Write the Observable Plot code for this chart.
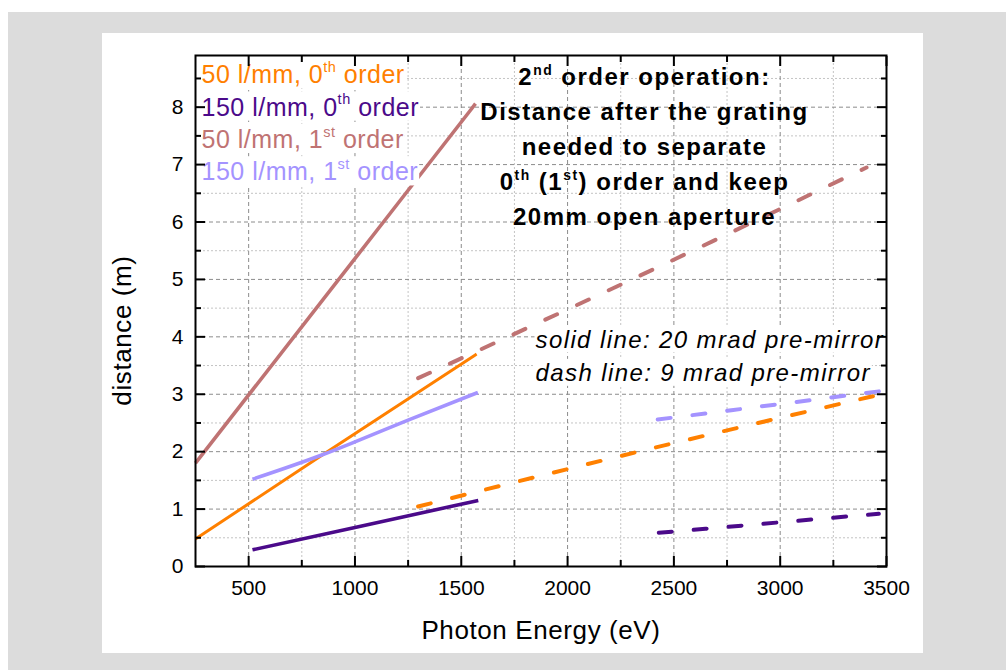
<!DOCTYPE html>
<html>
<head>
<meta charset="utf-8">
<script src="https://cdn.jsdelivr.net/npm/d3@7"></script>
<script src="https://cdn.jsdelivr.net/npm/@observablehq/plot@0.6"></script>
<style>
  body { margin: 0; background: #fff; font-family: "Liberation Sans", Arial, sans-serif; }
  #backdrop { position: absolute; left: 8px; top: 12px; width: 998px; height: 658px; background: #dcdcdc; }
  #panel { position: absolute; left: 94px; top: 21px; width: 821px; height: 620px; background: #fff; }
  #panel svg g[font-weight="bold"] text { letter-spacing: 1.5px; }
  #panel svg g[font-style="italic"] text { letter-spacing: 1.4px; }
  #panel svg g[font-size="25"] text { letter-spacing: 0.5px; }
  #panel svg g[font-size="26"] text { letter-spacing: 0.6px; }
</style>
</head>
<body>
<div id="backdrop"><div id="panel"></div></div>
<script>
// Photon energy (eV) vs. distance (m) after the grating, per grating and order.
// Solid curves: 20 mrad pre-mirror.
const e50Order0Solid = [250, 850, 1572];
const d50Order0Solid = [0.48, 1.95, 3.70];
const e150Order0Solid = [518, 1000, 1580];
const d150Order0Solid = [0.29, 0.68, 1.15];
const e50Order1Solid = [250, 1134, 1567];
const d50Order1Solid = [1.80, 6.00, 8.06];
const e150Order1Solid = [518, 850, 1000, 1250, 1578];
const d150Order1Solid = [1.52, 1.95, 2.17, 2.55, 3.03];
// Dashed curves: 9 mrad pre-mirror.
const e50Order0Dash = [1297, 2500, 3453];
const d50Order0Dash = [1.045, 2.15, 2.98];
const e150Order0Dash = [2429, 3000, 3464];
const d150Order0Dash = [0.587, 0.77, 0.918];
const e50Order1Dash = [1297, 2400, 3406];
const d50Order1Dash = [3.28, 5.17, 6.95];
const e150Order1Dash = [2424, 3000, 3464];
const d150Order1Dash = [2.56, 2.83, 3.05];

const gratingLabels = ["50 l/mm, 0^{th} order", "150 l/mm, 0^{th} order", "50 l/mm, 1^{st} order", "150 l/mm, 1^{st} order"];
const gratingColors = ["#ff8000", "#4b0a8a", "#bf7373", "#a493ff"];

const xMajorTicks = [500, 1000, 1500, 2000, 2500, 3000, 3500];
const xMinorTicks = [750, 1250, 1750, 2250, 2750, 3250];
const yMajorTicks = [0, 1, 2, 3, 4, 5, 6, 7, 8];
const yMinorTicks = [0.5, 1.5, 2.5, 3.5, 4.5, 5.5, 6.5, 7.5, 8.5];

const titleLines = ["2^{nd} order operation:", "Distance after the grating", "needed to separate", "0^{th} (1^{st}) order and keep", "20mm open aperture"];
const noteLines = ["solid line: 20 mrad pre-mirror", "dash line: 9 mrad pre-mirror"];
const xLabel = "Photon Energy (eV)";
const yLabel = "distance (m)";

const toRows = (es, ds) => es.map((e, i) => ({energy: e, distance: ds[i]}));
const solidSeries = [
  toRows(e50Order0Solid, d50Order0Solid),
  toRows(e150Order0Solid, d150Order0Solid),
  toRows(e50Order1Solid, d50Order1Solid),
  toRows(e150Order1Solid, d150Order1Solid)
];
const dashSeries = [
  toRows(e50Order0Dash, d50Order0Dash),
  toRows(e150Order0Dash, d150Order0Dash),
  toRows(e50Order1Dash, d50Order1Dash),
  toRows(e150Order1Dash, d150Order1Dash)
];

// Tick-only axis; ticks are shifted so they point into the frame.
const tickAxis = (axis, anchor, ticks, size, shift) => axis({
  anchor, ticks, tickSize: size, fill: "none", strokeWidth: 2, label: null, ...shift
});

const chart = Plot.plot({
  width: 821,
  height: 620,
  marginLeft: 93,
  marginRight: 37,
  marginTop: 22,
  marginBottom: 87,
  style: {fontFamily: '"Liberation Sans", Arial, sans-serif', fontSize: "21px", color: "black", background: "transparent", overflow: "visible"},
  x: {domain: [250, 3500]},
  y: {domain: [0, 8.9]},
  marks: [
    // grid: dotted minor, dashed major
    Plot.gridX({ticks: xMinorTicks, stroke: "#c4c4c4", strokeOpacity: 1, strokeDasharray: "2,2"}),
    Plot.gridY({ticks: yMinorTicks, stroke: "#c4c4c4", strokeOpacity: 1, strokeDasharray: "2,2"}),
    Plot.gridX({ticks: xMajorTicks.slice(0, -1), stroke: "#8c8c8c", strokeOpacity: 1, strokeDasharray: "4,3"}),
    Plot.gridY({ticks: yMajorTicks.slice(1), stroke: "#8c8c8c", strokeOpacity: 1, strokeDasharray: "4,3"}),

    // curves
    ...solidSeries.map((rows, i) => Plot.line(rows, {
      x: "energy", y: "distance", stroke: gratingColors[i], strokeWidth: i === 0 ? 3 : 3.6,
      curve: "monotone-x", strokeLinecap: "butt"
    })),
    ...dashSeries.map((rows, i) => Plot.line(rows, {
      x: "energy", y: "distance", stroke: gratingColors[i], strokeWidth: 4,
      curve: "monotone-x", strokeDasharray: "13,22", strokeLinecap: "round"
    })),

    // legend
    ...gratingLabels.map((t, i) => Plot.text([t], {
      text: d => d, frameAnchor: "top-left", dx: 6, dy: 10 + i * 32.4,
      lineAnchor: "top", textAnchor: "start", fill: gratingColors[i], fontSize: 25
    })),

    // annotations
    Plot.text([titleLines.join("\n")], {
      text: d => d, frameAnchor: "top", dx: 103.5, dy: 5, lineAnchor: "top",
      textAnchor: "middle", fontWeight: "bold", fontSize: 24, lineHeight: 1.458, fill: "black"
    }),
    ...noteLines.map((t, i) => Plot.text([t], {
      text: d => d, frameAnchor: "top-left", dx: 340, dy: 275 + i * 33.3, lineAnchor: "top",
      textAnchor: "start", fontStyle: "italic", fontSize: 24, fill: "black"
    })),

    // axis titles
    Plot.text([xLabel], {text: d => d, frameAnchor: "bottom", dy: 63.7, lineAnchor: "middle", textAnchor: "middle", fontSize: 26, fill: "black"}),
    Plot.text([yLabel], {text: d => d, frameAnchor: "left", dx: -73, dy: 19.5, rotate: -90, lineAnchor: "middle", textAnchor: "middle", fontSize: 26, fill: "black"}),

    // tick labels
    Plot.axisX({ticks: xMajorTicks, tickSize: 0, tickPadding: 14, label: null, fontSize: 21, tickFormat: d3.format("d")}),
    Plot.axisY({ticks: yMajorTicks, tickSize: 0, tickPadding: 12, label: null, fontSize: 21, tickFormat: d3.format("d")}),

    // inward ticks on all four sides
    tickAxis(Plot.axisX, "bottom", xMajorTicks, 10, {dy: -10}),
    tickAxis(Plot.axisX, "bottom", xMinorTicks, 6, {dy: -6}),
    tickAxis(Plot.axisX, "top", xMajorTicks, 10, {dy: 10}),
    tickAxis(Plot.axisX, "top", xMinorTicks, 6, {dy: 6}),
    tickAxis(Plot.axisY, "left", yMajorTicks, 10, {dx: 10}),
    tickAxis(Plot.axisY, "left", yMinorTicks, 6, {dx: 6}),
    tickAxis(Plot.axisY, "right", yMajorTicks, 10, {dx: -10}),
    tickAxis(Plot.axisY, "right", yMinorTicks, 6, {dx: -6}),

    Plot.frame({stroke: "black", strokeWidth: 2})
  ]
});

document.getElementById("panel").appendChild(chart);

const SVGNS = "http://www.w3.org/2000/svg";

// Turn "^{...}" markup into raised, smaller tspans.
function applySuperscripts(svg) {
  const pattern = /\^\{([^}]*)\}/;
  svg.querySelectorAll("text, tspan").forEach(el => {
    if (el.children.length || !pattern.test(el.textContent)) return;
    const fs = parseFloat(getComputedStyle(el).fontSize);
    const parts = el.textContent.split(/\^\{([^}]*)\}/);
    el.textContent = "";
    parts.forEach((p, i) => {
      if (!p) return;
      const ts = document.createElementNS(SVGNS, "tspan");
      ts.textContent = p;
      if (i % 2) {
        ts.setAttribute("font-size", (0.58 * fs).toFixed(2));
        ts.setAttribute("dy", (-0.45 * fs).toFixed(2));
      } else if (i > 0) {
        ts.setAttribute("dy", (0.45 * fs).toFixed(2));
      }
      el.appendChild(ts);
    });
  });
}

// Opaque white boxes behind legend and note labels.
function addTextBoxes(svg, selector) {
  svg.querySelectorAll(selector).forEach(t => {
    const b = t.getBBox();
    const r = document.createElementNS(SVGNS, "rect");
    r.setAttribute("x", b.x - 1);
    r.setAttribute("y", b.y);
    r.setAttribute("width", b.width + 2);
    r.setAttribute("height", b.height);
    r.setAttribute("fill", "white");
    r.setAttribute("stroke", "none");
    const tf = t.getAttribute("transform");
    if (tf) r.setAttribute("transform", tf);
    t.parentNode.insertBefore(r, t);
  });
}

applySuperscripts(chart);
addTextBoxes(chart, 'g[font-size="25"] > text, g[font-style="italic"] > text');
</script>
</body>
</html>
